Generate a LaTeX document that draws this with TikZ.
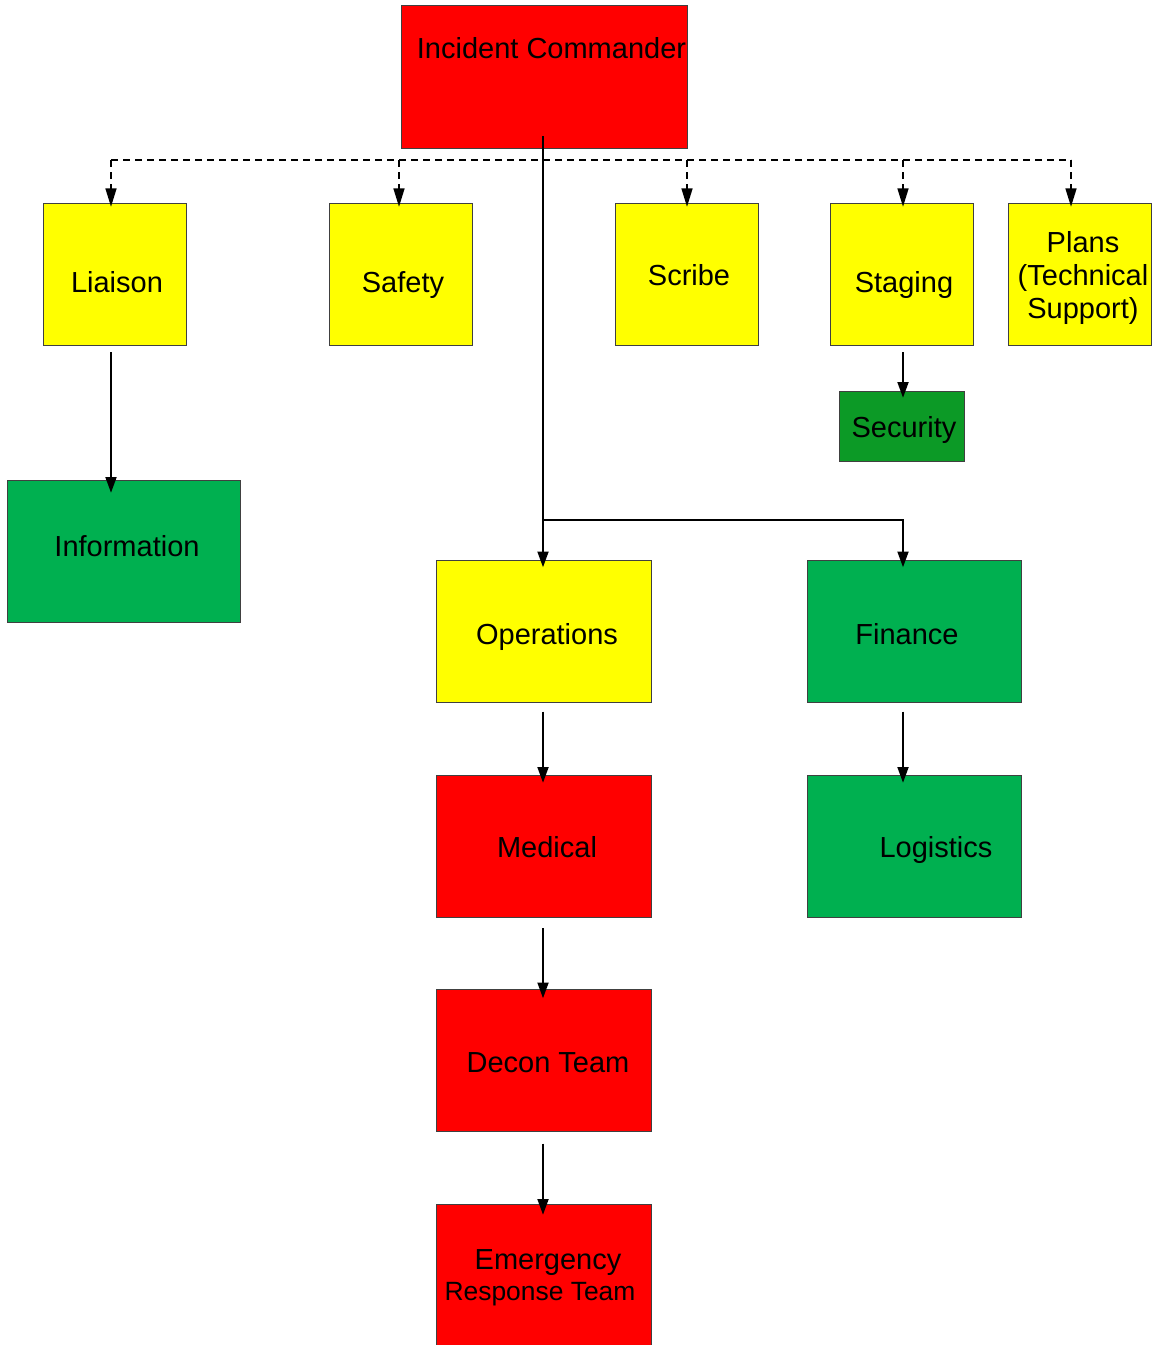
\documentclass[tikz,border=0pt]{standalone}
\usepackage{fontspec}
\setmainfont{Liberation Sans}
\usetikzlibrary{arrows.meta,calc}
\definecolor{boxred}{RGB}{255,0,0}
\definecolor{boxyellow}{RGB}{255,255,0}
\definecolor{boxgreen}{RGB}{0,176,80}
\definecolor{secgreen}{RGB}{12,154,38}
\tikzset{
  box/.style={draw=black!75, line width=0.75pt, inner sep=0pt, outer sep=0pt},
  smallbox/.style={box, minimum width=107.25pt, minimum height=106.5pt},
  widebox/.style={box, minimum width=161.25pt, minimum height=106.5pt},
  lbl/.style={font=\fontsize{21.75}{24.75}\selectfont, inner sep=0pt, align=center, anchor=base},
  mlbl/.style={font=\fontsize{21.75}{24.75}\selectfont, inner sep=0pt, align=center},
  conn/.style={line width=2.1pt, -{Triangle[length=12pt,width=8pt]}},
  dline/.style={line width=1.9pt, dash pattern=on 5.5pt off 3.5pt},
  dconn/.style={dline, -{Triangle[length=14pt,width=8pt]}}
}
\begin{document}
\begin{tikzpicture}[x=0.75pt,y=-0.75pt]
\clip (0,0) rectangle (1159,1345);
\fill[white] (0,0) rectangle (1159,1345);

% command level
\node[box, fill=boxred, minimum width=214.5pt, minimum height=106.5pt] (ic) at (544,77) {};
\node[lbl] (iclbl) at (551.5,58.5) {Incident Commander};

% staff row
\node[smallbox, fill=boxyellow] (liaison) at (114.5,274) {};
\node[lbl] (liaisonlbl) at (117,292.5) {Liaison};
\node[smallbox, fill=boxyellow] (safety) at (400.5,274) {};
\node[lbl] (safetylbl) at (403,292.5) {Safety};
\node[smallbox, fill=boxyellow] (scribe) at (686.5,274) {};
\node[lbl] (scribelbl) at (689,285.5) {Scribe};
\node[smallbox, fill=boxyellow] (staging) at (901.5,274) {};
\node[lbl] (staginglbl) at (904,292.5) {Staging};
\node[smallbox, fill=boxyellow] (plans) at (1079.5,274) {};
\node[mlbl] (planslbl) at (1083,278) {Plans\\(Technical\\Support)};

\node[box, fill=secgreen, minimum width=93.75pt, minimum height=52.5pt] (security) at (901.5,426) {};
\node[lbl] (securitylbl) at (904,437.5) {Security};

\node[box, fill=boxgreen, minimum width=174.75pt, minimum height=106.5pt] (info) at (123.5,551) {};
\node[lbl] (infolbl) at (127,556.5) {Information};

% operations branch
\node[widebox, fill=boxyellow] (ops) at (543.5,631.5) {};
\node[lbl] (opslbl) at (547,644.5) {Operations};
\node[widebox, fill=boxred] (medical) at (543.5,846) {};
\node[lbl] (medicallbl) at (547,857.5) {Medical};
\node[widebox, fill=boxred] (decon) at (543.5,1060.5) {};
\node[lbl] (deconlbl) at (548,1072.5) {Decon Team};
\node[widebox, fill=boxred] (ert) at (543.5,1275) {};
\node[mlbl] (ertlbl) at (540,1278) {\hspace*{12pt}Emergency\\[-1.5pt]{\fontsize{19.8}{22}\selectfont Response Team}};

% finance branch
\node[box, fill=boxgreen, minimum width=160.5pt, minimum height=106.5pt] (fin) at (914,631.5) {};
\node[lbl] (finlbl) at (907,644.5) {Finance};
\node[box, fill=boxgreen, minimum width=160.5pt, minimum height=106.5pt] (log) at (914,846) {};
\node[lbl] (loglbl) at (936,857.5) {Logistics};

% dashed staff bus
\coordinate (dL) at (111,160);
\coordinate (dS) at (399,160);
\coordinate (dC) at (687,160);
\coordinate (dG) at (903,160);
\coordinate (dP) at (1071,160);
\draw[dline] (dL) -- (dP);
\draw[dconn] (dL) -- ($(dL |- liaison.north)+(0,4)$);
\draw[dconn] (dS) -- ($(dS |- safety.north)+(0,4)$);
\draw[dconn] (dC) -- ($(dC |- scribe.north)+(0,4)$);
\draw[dconn] (dG) -- ($(dG |- staging.north)+(0,4)$);
\draw[dconn] (dP) -- ($(dP |- plans.north)+(0,4)$);

% main trunk
\coordinate (split) at (543,520);
\draw[conn] ($(ic.south)+(-1,-12)$) -- ($(split |- ops.north)+(0,7)$);
\draw[conn] (split) -| ($(fin.north)+(-11,7)$);

% solid links
\draw[conn] ($(liaison.south)+(-3.5,7)$) -- ($(liaison.south |- info.north)+(-3.5,13)$);
\draw[conn] ($(staging.south)+(1.5,7)$) -- ($(security.north)+(1.5,7)$);
\draw[conn] ($(ops.south)+(-0.5,9)$) -- ($(medical.north)+(-0.5,8)$);
\draw[conn] ($(medical.south)+(-0.5,11)$) -- ($(decon.north)+(-0.5,9)$);
\draw[conn] ($(decon.south)+(-0.5,12)$) -- ($(ert.north)+(-0.5,11)$);
\draw[conn] ($(fin.south)+(-11,9)$) -- ($(log.north)+(-11,8)$);
\end{tikzpicture}
\end{document}
